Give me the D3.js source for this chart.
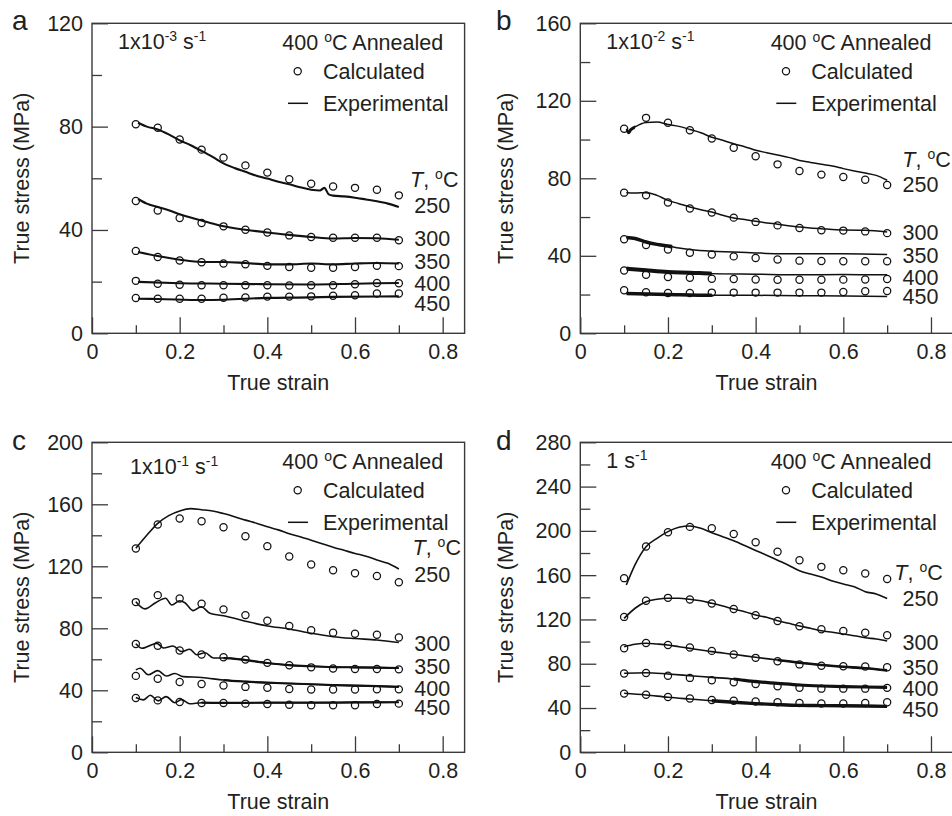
<!DOCTYPE html>
<html>
<head>
<meta charset="utf-8">
<script src="https://cdn.jsdelivr.net/npm/d3@7"></script>
<style>
  body { margin: 0; background: #fff; }
  svg { display: block; font-family: "Liberation Sans", Arial, sans-serif; }
</style>
</head>
<body>
<svg id="chart" width="952" height="816"></svg>
<script>
// ---- data ----
const temps = [250, 300, 350, 400, 450];
const calcStrain = [0.1, 0.15, 0.2, 0.25, 0.3, 0.35, 0.4, 0.45, 0.5, 0.55, 0.6, 0.65, 0.7];
const xTicksMajor = [0, 0.2, 0.4, 0.6, 0.8];
const xTicksMinor = [0.1, 0.3, 0.5, 0.7];

// a: 1x10^-3 s^-1
const calcA = [
  [80.9, 79.6, 75.0, 71.1, 68.0, 65.0, 62.2, 59.6, 57.9, 56.8, 56.3, 55.6, 53.4],
  [51.2, 47.5, 44.6, 42.7, 41.4, 40.1, 39.0, 37.9, 37.3, 37.0, 37.0, 37.0, 36.0],
  [31.9, 29.5, 28.2, 27.5, 27.0, 26.7, 26.1, 25.7, 25.4, 25.4, 25.7, 26.1, 26.0],
  [20.3, 19.2, 18.8, 18.6, 18.6, 18.6, 18.6, 18.5, 18.6, 18.6, 19.0, 19.5, 19.4],
  [13.7, 13.4, 13.4, 13.4, 13.8, 13.9, 14.2, 14.2, 14.3, 14.5, 14.7, 15.4, 15.4]
];
const expA = [
  [[0.105,81.5],[0.125,80.0],[0.15,78.9],[0.175,77.0],[0.2,74.7],[0.225,72.8],[0.25,70.6],[0.275,68.3],[0.3,65.8],[0.325,64.0],[0.35,62.5],[0.375,61.0],[0.4,59.9],[0.425,58.7],[0.45,57.7],[0.475,56.5],[0.5,55.6],[0.52,55.3],[0.53,56.3],[0.54,53.8],[0.55,53.3],[0.575,53.0],[0.6,52.5],[0.625,51.8],[0.65,51.1],[0.675,50.2],[0.7,48.9]],
  [[0.105,52.0],[0.125,50.2],[0.15,48.9],[0.175,47.6],[0.2,46.1],[0.225,44.8],[0.25,43.7],[0.275,42.5],[0.3,41.4],[0.35,40.1],[0.4,39.0],[0.45,38.1],[0.5,37.3],[0.55,36.7],[0.6,36.9],[0.65,36.8],[0.7,36.2]],
  [[0.105,31.5],[0.15,29.9],[0.2,28.5],[0.25,27.6],[0.3,27.6],[0.35,27.2],[0.4,26.7],[0.45,26.7],[0.5,27.0],[0.55,26.7],[0.6,27.0],[0.65,27.2],[0.7,27.0]],
  [[0.105,19.9],[0.2,19.4],[0.3,19.2],[0.4,19.0],[0.5,18.9],[0.6,19.2],[0.7,19.5]],
  [[0.105,13.4],[0.15,13.3],[0.25,12.9],[0.3,13.0],[0.4,13.7],[0.5,13.9],[0.55,14.1],[0.7,14.3]]
];

// b: 1x10^-2 s^-1
const calcB = [
  [105.6, 111.2, 108.7, 104.8, 100.5, 95.8, 91.4, 87.2, 83.8, 81.9, 80.7, 79.3, 76.5],
  [72.6, 71.2, 67.5, 64.4, 62.3, 59.7, 57.5, 55.7, 54.4, 53.2, 53.0, 52.6, 51.7],
  [48.5, 45.6, 43.3, 41.6, 40.7, 39.7, 38.9, 38.1, 37.5, 37.3, 37.2, 37.2, 37.2],
  [32.4, 30.2, 29.1, 28.7, 28.2, 28.0, 27.8, 27.6, 27.6, 27.6, 27.7, 27.8, 28.0],
  [22.2, 21.2, 20.8, 20.8, 21.0, 21.0, 21.0, 21.0, 21.0, 21.0, 21.3, 21.7, 21.8]
];
const expB = [
  [[0.105,105.5],[0.11,103.5],[0.115,105.0],[0.125,106.5],[0.15,108.8],[0.175,109.0],[0.2,107.8],[0.225,106.8],[0.25,105.2],[0.275,103.5],[0.3,101.2],[0.325,99.6],[0.35,97.8],[0.375,96.3],[0.4,94.5],[0.425,93.2],[0.45,92.0],[0.475,90.8],[0.5,89.2],[0.525,88.2],[0.55,87.2],[0.575,86.3],[0.6,85.0],[0.625,83.8],[0.65,82.7],[0.675,81.5],[0.7,79.0]],
  [[0.105,72.6],[0.125,72.4],[0.15,72.6],[0.175,71.2],[0.2,68.6],[0.225,66.9],[0.25,65.2],[0.275,63.8],[0.3,62.6],[0.325,60.9],[0.35,59.5],[0.375,58.7],[0.4,57.8],[0.45,56.3],[0.5,54.9],[0.55,54.0],[0.6,53.3],[0.65,53.2],[0.7,52.3]],
  [[0.105,49.5],[0.125,48.9],[0.15,47.1],[0.175,45.9],[0.2,45.1],[0.225,44.0],[0.25,43.2],[0.3,42.3],[0.35,42.0],[0.4,41.5],[0.45,41.1],[0.5,41.0],[0.6,41.0],[0.7,40.7]],
  [[0.105,33.4],[0.15,32.5],[0.2,31.6],[0.25,31.3],[0.3,30.8],[0.4,30.5],[0.5,30.2],[0.6,30.3],[0.7,30.2]],
  [[0.105,20.5],[0.2,20.0],[0.3,19.6],[0.4,19.6],[0.5,19.4],[0.6,19.3],[0.7,19.0]]
];

// c: 1x10^-1 s^-1
const calcC = [
  [131.5, 147.0, 150.8, 149.1, 145.2, 139.4, 133.0, 126.3, 121.1, 117.5, 115.5, 113.7, 109.7],
  [96.9, 101.4, 99.2, 95.9, 92.2, 88.5, 84.9, 81.5, 78.8, 77.2, 76.5, 75.8, 74.0],
  [69.9, 68.8, 65.7, 63.1, 61.3, 59.8, 57.7, 56.1, 54.8, 54.1, 53.7, 53.7, 53.5],
  [49.3, 47.5, 45.3, 44.1, 43.1, 42.2, 41.6, 40.8, 40.5, 40.5, 40.5, 40.6, 40.6],
  [35.0, 33.5, 32.5, 31.8, 31.8, 31.4, 31.2, 30.7, 30.3, 30.3, 30.3, 31.2, 31.4]
];
const expC = [
  [[0.1,131.6],[0.125,140.0],[0.15,147.7],[0.175,152.7],[0.2,155.7],[0.225,157.2],[0.25,156.5],[0.275,155.7],[0.3,154.0],[0.325,152.0],[0.35,149.8],[0.375,147.8],[0.4,145.5],[0.425,143.5],[0.45,141.0],[0.475,139.0],[0.5,136.8],[0.525,134.5],[0.55,132.3],[0.575,130.3],[0.6,128.3],[0.625,126.5],[0.65,124.1],[0.675,121.9],[0.7,118.3]],
  [[0.1,97.2],[0.121,92.5],[0.145,96.5],[0.168,99.4],[0.182,95.0],[0.2,97.8],[0.212,96.5],[0.231,91.4],[0.249,93.9],[0.269,89.7],[0.3,88.1],[0.35,84.6],[0.4,81.5],[0.45,79.6],[0.5,76.8],[0.55,74.6],[0.6,73.4],[0.65,72.5],[0.7,70.8]],
  [[0.1,70.0],[0.114,67.1],[0.148,70.3],[0.163,67.3],[0.185,68.6],[0.204,65.0],[0.223,66.5],[0.239,62.9],[0.258,64.2],[0.277,60.8],[0.3,60.8],[0.35,59.5],[0.4,57.6],[0.45,56.2],[0.5,55.5],[0.55,55.0],[0.6,54.8],[0.65,54.6],[0.7,54.4]],
  [[0.1,53.2],[0.11,54.2],[0.128,50.0],[0.15,52.7],[0.17,49.2],[0.189,50.8],[0.208,48.8],[0.25,48.3],[0.3,46.6],[0.35,45.6],[0.4,44.9],[0.45,44.4],[0.5,43.9],[0.55,43.4],[0.6,43.0],[0.65,42.7],[0.7,42.2]],
  [[0.1,35.3],[0.117,33.8],[0.133,36.8],[0.151,33.2],[0.169,35.9],[0.189,32.0],[0.204,34.0],[0.223,31.3],[0.25,32.0],[0.3,31.9],[0.4,32.0],[0.5,32.0],[0.6,32.2],[0.7,32.3]]
];

// d: 1 s^-1
const calcD = [
  [157.3, 185.9, 198.7, 203.6, 202.4, 197.2, 189.7, 181.1, 173.4, 167.5, 164.5, 161.5, 156.5],
  [122.3, 136.9, 139.5, 138.0, 134.4, 129.4, 123.8, 118.6, 113.9, 111.1, 109.5, 107.9, 105.8],
  [94.0, 98.8, 97.0, 94.6, 91.6, 88.3, 85.3, 82.3, 79.4, 78.2, 77.8, 77.5, 76.8],
  [71.2, 71.6, 69.2, 67.2, 65.1, 63.2, 61.7, 59.7, 58.2, 57.5, 57.5, 57.5, 58.2],
  [53.0, 51.9, 49.9, 48.6, 47.3, 46.6, 45.9, 45.2, 44.6, 44.1, 44.1, 44.5, 45.2]
];
const expD = [
  [[0.105,151.1],[0.125,169.5],[0.15,185.7],[0.175,193.3],[0.2,199.3],[0.225,203.2],[0.25,204.4],[0.275,202.3],[0.3,198.4],[0.325,194.8],[0.35,191.1],[0.375,186.8],[0.4,182.3],[0.425,178.0],[0.45,173.5],[0.475,169.0],[0.5,164.0],[0.525,161.0],[0.55,158.3],[0.575,154.7],[0.6,152.0],[0.625,149.6],[0.65,145.1],[0.675,143.0],[0.7,139.0]],
  [[0.1,121.0],[0.125,130.1],[0.15,136.0],[0.175,138.2],[0.2,139.1],[0.225,139.1],[0.25,138.2],[0.275,136.9],[0.3,134.6],[0.325,132.1],[0.35,129.4],[0.375,127.0],[0.4,124.0],[0.425,121.9],[0.45,118.9],[0.475,116.5],[0.5,114.1],[0.525,112.0],[0.55,109.8],[0.575,108.4],[0.6,106.9],[0.625,105.3],[0.65,103.5],[0.675,102.3],[0.7,100.5]],
  [[0.1,95.4],[0.125,97.6],[0.15,98.5],[0.175,97.8],[0.2,96.9],[0.225,95.4],[0.25,93.9],[0.275,92.4],[0.3,90.9],[0.35,88.5],[0.4,85.8],[0.45,83.4],[0.5,80.9],[0.55,78.9],[0.6,77.3],[0.65,75.9],[0.7,74.0]],
  [[0.1,71.4],[0.15,71.9],[0.2,70.7],[0.25,69.2],[0.3,67.7],[0.35,66.2],[0.4,63.8],[0.45,62.3],[0.5,60.8],[0.55,59.9],[0.6,59.3],[0.65,59.0],[0.7,58.7]],
  [[0.1,53.3],[0.15,51.8],[0.2,49.7],[0.25,48.1],[0.3,46.6],[0.35,45.2],[0.4,44.0],[0.45,43.1],[0.5,42.4],[0.55,42.2],[0.6,42.0],[0.65,41.8],[0.7,41.5]]
];

// ---- layout ----
const W = 372.6, H = 310;          // plot box, x domain 0..0.85
const ink = "#231f20", frame = "#3a3a3a";
const fs = 21.5;

const panels = [
  { id: "a", left: 92, top: 23.3, yMax: 120, calc: calcA, exp: expA,
    rate: ["1x10", "-3"], rateX: 26, rateY: 25.5, titleX: -63,
    tY: 163.7, tX: 318, labelY: [189.7, 222.7, 245.7, 267.7, 287.7],
    lineW: 2.1, noise: [] },
  { id: "b", left: 580.3, top: 23.3, yMax: 160, calc: calcB, exp: expB,
    rate: ["1x10", "-2"], rateX: 26, rateY: 25.5, titleX: -67,
    tY: 143.4, tX: 322, labelY: [168.4, 216.7, 240, 261.7, 280.7],
    lineW: 1.5, noise: [[0, 0.105, 0.125, 3], [2, 0.105, 0.21, 3.5], [3, 0.105, 0.3, 4], [4, 0.105, 0.3, 3.5]] },
  { id: "c", left: 92, top: 442.3, yMax: 200, calc: calcC, exp: expC,
    rate: ["1x10", "-1"], rateX: 38, rateY: 31.5, titleX: -63,
    tY: 112.4, tX: 320.5, labelY: [139.7, 208.4, 231.7, 254, 273],
    lineW: 1.6, noise: [[2, 0.3, 0.7, 2.2], [3, 0.3, 0.7, 2.2], [4, 0.25, 0.7, 2.2]] },
  { id: "d", left: 580.3, top: 442.3, yMax: 280, calc: calcD, exp: expD,
    rate: ["1", null], rateX: 26, rateY: 26, titleX: -67,
    tY: 137.4, tX: 314, labelY: [164, 207.4, 232.4, 254, 275],
    lineW: 1.6, noise: [[2, 0.45, 0.7, 2.6], [3, 0.35, 0.7, 3.2], [4, 0.3, 0.7, 3.4]] }
];

const svg = d3.select("#chart");
const defs = svg.append("defs");

function styleAxis(sel) {
  sel.select(".domain").remove();
  sel.attr("color", frame);
  sel.selectAll("line").attr("stroke-width", 1.3);
  sel.selectAll("text").attr("fill", ink).style("font-size", fs + "px")
    .style("font-family", '"Liberation Sans", Arial, sans-serif');
}

panels.forEach(p => {
  const x = d3.scaleLinear().domain([0, 0.85]).range([0, W]);
  const y = d3.scaleLinear().domain([0, p.yMax]).range([H, 0]);
  const g = svg.append("g").attr("transform", `translate(${p.left},${p.top})`);

  const yMajor = d3.range(0, p.yMax + 1, 40);
  const yMinor = d3.range(20, p.yMax, 40);

  // ticks (pointing inward)
  g.append("g").attr("transform", `translate(0,${H})`)
    .call(d3.axisBottom(x).tickValues(xTicksMajor).tickSize(-16).tickPadding(10).tickFormat(d => d === 0 ? "0" : d3.format(".1f")(d)))
    .call(styleAxis);
  g.append("g").attr("transform", `translate(0,${H})`)
    .call(d3.axisBottom(x).tickValues(xTicksMinor).tickSize(-8).tickFormat(""))
    .call(styleAxis);
  g.append("g")
    .call(d3.axisLeft(y).tickValues(yMajor).tickSize(-16).tickPadding(9).tickFormat(d3.format("d")))
    .call(styleAxis);
  g.append("g")
    .call(d3.axisLeft(y).tickValues(yMinor).tickSize(-10).tickFormat(""))
    .call(styleAxis);

  // frame
  g.append("rect").attr("width", W).attr("height", H)
    .attr("fill", "none").attr("stroke", frame).attr("stroke-width", 1.4);

  // experimental curves
  const line = d3.line().x(d => x(d[0])).y(d => y(d[1])).curve(d3.curveMonotoneX);
  const curves = g.append("g");
  p.exp.forEach(c => {
    curves.append("path").attr("d", line(c))
      .attr("fill", "none").attr("stroke", "#111").attr("stroke-width", p.lineW)
      .attr("stroke-linejoin", "round");
  });
  // noisy stretches drawn heavier (clip rect lives in the panel's local space)
  p.noise.forEach((n, i) => {
    const cid = `clip-${p.id}-${i}`;
    defs.append("clipPath").attr("id", cid).append("rect")
      .attr("x", x(n[1])).attr("y", -20)
      .attr("width", x(n[2]) - x(n[1])).attr("height", H + 40);
    curves.append("path")
      .attr("clip-path", `url(#${cid})`)
      .attr("d", line(p.exp[n[0]]))
      .attr("fill", "none").attr("stroke", "#111").attr("stroke-width", n[3]);
  });

  // calculated points
  p.calc.forEach(vals => {
    g.append("g").selectAll("circle").data(vals).join("circle")
      .attr("cx", (d, i) => x(calcStrain[i])).attr("cy", d => y(d)).attr("r", 3.6)
      .attr("fill", "none").attr("stroke", "#111").attr("stroke-width", 1.25);
  });

  // panel letter
  svg.append("text").attr("x", p.left - (p.id === "a" || p.id === "c" ? 80 : 84.3))
    .attr("y", p.top + (p.id === "a" || p.id === "b" ? 7 : 7.4))
    .attr("fill", ink).style("font-size", "28px").text(p.id);

  // axis titles
  g.append("text").attr("x", W / 2).attr("y", H + 57).attr("text-anchor", "middle")
    .attr("fill", ink).style("font-size", fs + "px").text("True strain");
  g.append("text")
    .attr("transform", `translate(${p.titleX},${H / 2}) rotate(-90)`)
    .attr("text-anchor", "middle").attr("fill", ink).style("font-size", fs + "px")
    .text("True stress (MPa)");

  // strain-rate label
  const r = g.append("text").attr("x", p.rateX).attr("y", p.rateY).attr("fill", ink).style("font-size", fs + "px");
  r.append("tspan").text(p.rate[0]);
  if (p.rate[1]) r.append("tspan").attr("dy", -8).style("font-size", "14px").text(p.rate[1]);
  r.append("tspan").attr("dy", p.rate[1] ? 8 : 0).text(" s");
  r.append("tspan").attr("dy", -8).style("font-size", "14px").text("-1");

  // legend
  const ann = g.append("text").attr("x", x(0.8) + 0.5).attr("y", 26.5).attr("text-anchor", "end")
    .attr("fill", ink).style("font-size", fs + "px");
  ann.append("tspan").text("400 ");
  ann.append("tspan").attr("dy", -8).style("font-size", "14px").text("o");
  ann.append("tspan").attr("dy", 8).text("C Annealed");

  g.append("circle").attr("cx", 205.7).attr("cy", 48).attr("r", 3.6)
    .attr("fill", "none").attr("stroke", "#111").attr("stroke-width", 1.25);
  g.append("text").attr("x", 231).attr("y", 56).attr("fill", ink).style("font-size", fs + "px").text("Calculated");
  g.append("line").attr("x1", 196).attr("x2", 216).attr("y1", 80).attr("y2", 80)
    .attr("stroke", "#111").attr("stroke-width", 1.5);
  g.append("text").attr("x", 231).attr("y", 87.5).attr("fill", ink).style("font-size", fs + "px").text("Experimental");

  // temperature labels
  const t = g.append("text").attr("x", p.tX).attr("y", p.tY).attr("fill", ink).style("font-size", fs + "px");
  t.append("tspan").style("font-style", "italic").text("T");
  t.append("tspan").text(", ");
  t.append("tspan").attr("dy", -8).style("font-size", "14px").text("o");
  t.append("tspan").attr("dy", 8).text("C");
  temps.forEach((tc, i) => {
    g.append("text").attr("x", 322.3).attr("y", p.labelY[i]).attr("fill", ink)
      .style("font-size", fs + "px").text(tc);
  });
});
</script>
</body>
</html>
